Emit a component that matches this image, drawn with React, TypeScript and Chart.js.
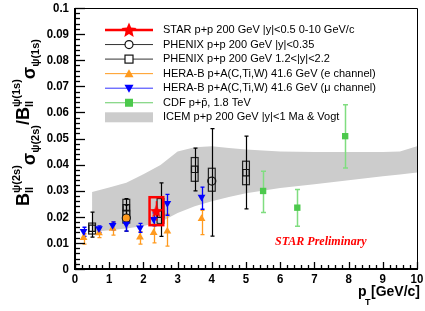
import React, { useEffect, useRef } from "react";
import { Chart, registerables } from "chart.js";

Chart.register(...registerables);

// ---------------- data ----------------
const xTickValues = [0, 1, 2, 3, 4, 5, 6, 7, 8, 9, 10];
const xTickLabels = ["0", "1", "2", "3", "4", "5", "6", "7", "8", "9", "10"];
const yTickValues = [0, 0.01, 0.02, 0.03, 0.04, 0.05, 0.06, 0.07, 0.08, 0.09, 0.1];
const yTickLabels = ["0", "0.01", "0.02", "0.03", "0.04", "0.05", "0.06", "0.07", "0.08", "0.09", "0.1"];

const legendLabels = [
  "STAR p+p 200 GeV |y|<0.5 0-10 GeV/c",
  "PHENIX p+p 200 GeV |y|<0.35",
  "PHENIX p+p 200 GeV 1.2<|y|<2.2",
  "HERA-B p+A(C,Ti,W) 41.6 GeV (e channel)",
  "HERA-B p+A(C,Ti,W) 41.6 GeV (\u03bc channel)",
  "CDF p+p\u0304, 1.8 TeV",
  "ICEM p+p 200 GeV |y|<1 Ma & Vogt",
];

// STAR
const starX = [2.38];
const starY = [0.0222];
const starStatLo = [0.0185];
const starStatHi = [0.026];
const starSysLo = [0.0168];
const starSysHi = [0.0275];

// PHENIX |y|<0.35 (open circles)
const phxCX = [1.5, 4.0];
const phxCY = [0.0195, 0.0337];
const phxCErrLo = [0.0145, 0.0126];
const phxCErrHi = [0.0245, 0.0538];
const phxCSysLo = [0.0176, 0.0298];
const phxCSysHi = [0.0225, 0.0386];

// PHENIX 1.2<|y|<2.2 (open squares)
const phxSX = [0.5, 1.5, 2.5, 3.5, 5.0];
const phxSY = [0.0156, 0.0235, 0.021, 0.0382, 0.0369];
const phxSErrLo = [0.0122, 0.018, 0.0125, 0.0299, 0.023];
const phxSErrHi = [0.0218, 0.027, 0.033, 0.0463, 0.0509];
const phxSSysLo = [0.0134, 0.0195, 0.0175, 0.0336, 0.0323];
const phxSSysHi = [0.0176, 0.0267, 0.027, 0.0427, 0.0413];

// extra orange marker at 1.5
const extraX = [1.5];
const extraY = [0.0195];

// HERA-B e channel
const heraEX = [0.25, 0.7, 1.1, 1.9, 2.3, 2.7, 3.7];
const heraEY = [0.012, 0.0138, 0.0155, 0.0122, 0.0139, 0.0145, 0.0193];
const heraELo = [0.0095, 0.012, 0.013, 0.0095, 0.01, 0.0088, 0.0132];
const heraEHi = [0.0135, 0.0155, 0.018, 0.0143, 0.0172, 0.021, 0.0225];

// HERA-B mu channel
const heraMX = [0.25, 0.7, 1.1, 1.5, 1.9, 2.3, 2.7, 3.7];
const heraMY = [0.0145, 0.0155, 0.0168, 0.0172, 0.0158, 0.0191, 0.0252, 0.0276];
const heraMLo = [0.0125, 0.014, 0.015, 0.0145, 0.014, 0.0165, 0.0206, 0.0229];
const heraMHi = [0.016, 0.0165, 0.018, 0.0195, 0.0175, 0.0215, 0.0286, 0.0314];

// CDF
const cdfX = [5.5, 6.5, 7.9];
const cdfY = [0.0299, 0.0235, 0.0509];
const cdfLo = [0.0216, 0.0164, 0.0387];
const cdfHi = [0.0375, 0.0305, 0.0629];

// ICEM band
const bandX = [0.5, 1.0, 1.5, 2.0, 2.5, 3.0, 3.5, 4.0, 4.5, 5.0, 6.0, 7.0, 8.0, 9.0, 9.5, 10.0];
const bandHigh = [0.0295, 0.0312, 0.033, 0.0363, 0.0398, 0.045, 0.0466, 0.047, 0.0464, 0.0458, 0.045, 0.0448, 0.0448, 0.0448, 0.045, 0.047];
const bandLow = [0.0142, 0.0148, 0.0155, 0.0165, 0.018, 0.0215, 0.024, 0.026, 0.0276, 0.029, 0.031, 0.0325, 0.034, 0.0355, 0.0362, 0.037];

// ---------------- styles ----------------
const SANS = '"Liberation Sans", Arial, Helvetica, sans-serif';
const RED = "#ff0000";
const ORANGE = "#ff9a1e";
const BLUE = "#0000ff";
const GREEN = "#4cc94c";
const GREEN_BAR = "#80dd80";
const BAND = "#cccccc";

function starPath(ctx: CanvasRenderingContext2D, cx: number, cy: number, r: number) {
  const inner = r * 0.45;
  ctx.beginPath();
  for (let i = 0; i < 10; i++) {
    const rad = i % 2 === 0 ? r : inner;
    const a = -Math.PI / 2 + (i * Math.PI) / 5;
    const px = cx + rad * Math.cos(a);
    const py = cy + rad * Math.sin(a);
    if (i === 0) ctx.moveTo(px, py);
    else ctx.lineTo(px, py);
  }
  ctx.closePath();
}

function makeStar(r: number, color: string): HTMLCanvasElement {
  const c = document.createElement("canvas");
  const s = Math.ceil(r * 2 + 2);
  c.width = s;
  c.height = s;
  const g = c.getContext("2d")!;
  g.fillStyle = color;
  starPath(g, s / 2, s / 2 + 0.5, r);
  g.fill();
  return c;
}

const pts = (xs: number[], ys: number[]) => xs.map((x, i) => ({ x, y: ys[i] }));

function condensedText(ctx: CanvasRenderingContext2D, s: string, x: number, y: number, sx: number) {
  ctx.save();
  ctx.translate(x, y);
  ctx.scale(sx, 1);
  ctx.fillText(s, 0, 0);
  ctx.restore();
}

const decor = {
  id: "decor",
  afterDatasetDraw(chart: any, args: any) {
    if (args.index !== 1) return;
    const ctx: CanvasRenderingContext2D = chart.ctx;
    const xs = chart.scales.x;
    const ys = chart.scales.y;
    const bar = (X: number[], lo: number[], hi: number[], color: string, lw: number, cap: number) => {
      ctx.save();
      ctx.strokeStyle = color;
      ctx.lineWidth = lw;
      X.forEach((x, i) => {
        const px = Math.round(xs.getPixelForValue(x)) + 0.5;
        const pl = ys.getPixelForValue(lo[i]);
        const ph = ys.getPixelForValue(hi[i]);
        ctx.beginPath();
        ctx.moveTo(px, pl);
        ctx.lineTo(px, ph);
        ctx.moveTo(px - cap, pl);
        ctx.lineTo(px + cap, pl);
        ctx.moveTo(px - cap, ph);
        ctx.lineTo(px + cap, ph);
        ctx.stroke();
      });
      ctx.restore();
    };
    const box = (X: number[], lo: number[], hi: number[], hw: number, color: string, lw: number) => {
      ctx.save();
      ctx.strokeStyle = color;
      ctx.lineWidth = lw;
      X.forEach((x, i) => {
        const l = xs.getPixelForValue(x - hw);
        const r = xs.getPixelForValue(x + hw);
        const t = ys.getPixelForValue(hi[i]);
        const b = ys.getPixelForValue(lo[i]);
        ctx.strokeRect(l, t, r - l, b - t);
      });
      ctx.restore();
    };
    box(phxSX, phxSSysLo, phxSSysHi, 0.1, "#222", 1.2);
    box(phxCX, phxCSysLo, phxCSysHi, 0.1, "#222", 1.2);
    bar(phxSX, phxSErrLo, phxSErrHi, "#000", 1.2, 2);
    bar(phxCX, phxCErrLo, phxCErrHi, "#000", 1.2, 2);
    bar(heraEX, heraELo, heraEHi, ORANGE, 1.3, 2);
    bar(heraMX, heraMLo, heraMHi, BLUE, 1.3, 2);
    bar(cdfX, cdfLo, cdfHi, GREEN_BAR, 1.5, 2.5);
    bar(starX, starStatLo, starStatHi, RED, 1.5, 0);
  },
  afterDatasetsDraw(chart: any) {
    const ctx: CanvasRenderingContext2D = chart.ctx;
    const xs = chart.scales.x;
    const ys = chart.scales.y;
    ctx.save();
    ctx.strokeStyle = RED;
    ctx.lineWidth = 2.5;
    starX.forEach((x, i) => {
      const l = xs.getPixelForValue(x - 0.2);
      const r = xs.getPixelForValue(x + 0.2);
      const t = ys.getPixelForValue(starSysHi[i]);
      const b = ys.getPixelForValue(starSysLo[i]);
      ctx.strokeRect(l, t, r - l, b - t);
    });
    ctx.restore();
  },
  afterDraw(chart: any) {
    const ctx: CanvasRenderingContext2D = chart.ctx;
    const xs = chart.scales.x;
    const ys = chart.scales.y;
    const a = chart.chartArea;
    ctx.save();
    // frame
    ctx.strokeStyle = "#000";
    ctx.lineWidth = 1;
    ctx.beginPath();
    ctx.moveTo(a.left, a.top + 0.5);
    ctx.lineTo(a.right + 0.5, a.top + 0.5);
    ctx.lineTo(a.right + 0.5, a.bottom);
    ctx.stroke();
    ctx.lineWidth = 2;
    ctx.beginPath();
    ctx.moveTo(a.left, a.top);
    ctx.lineTo(a.left, a.bottom);
    ctx.lineTo(a.right + 1, a.bottom);
    ctx.stroke();
    // y ticks
    ctx.lineWidth = 1.3;
    for (let k = 0; k <= 50; k++) {
      const v = k * 0.002;
      const py = Math.round(ys.getPixelForValue(v)) + 0.5;
      const len = k % 5 === 0 ? 10 : 5;
      ctx.beginPath();
      ctx.moveTo(a.left, py);
      ctx.lineTo(a.left + len, py);
      ctx.stroke();
    }
    // x ticks
    for (let k = 0; k <= 50; k++) {
      const v = k * 0.2;
      const px = Math.round(xs.getPixelForValue(v)) + 0.5;
      const len = k % 5 === 0 ? 7 : 4;
      ctx.beginPath();
      ctx.moveTo(px, a.bottom);
      ctx.lineTo(px, a.bottom - len);
      ctx.stroke();
    }
    // tick labels
    ctx.fillStyle = "#000";
    ctx.font = `bold 13.5px ${SANS}`;
    ctx.textAlign = "right";
    ctx.textBaseline = "middle";
    yTickValues.forEach((v, i) => {
      condensedText(ctx, yTickLabels[i], a.left - 6, ys.getPixelForValue(v), 0.85);
    });
    ctx.textAlign = "center";
    ctx.textBaseline = "alphabetic";
    xTickValues.forEach((v, i) => {
      condensedText(ctx, xTickLabels[i], xs.getPixelForValue(v), 283, 0.85);
    });
    // x title
    ctx.textAlign = "left";
    ctx.font = `bold 14px ${SANS}`;
    ctx.fillText("p", 358, 296);
    ctx.font = `bold 9px ${SANS}`;
    ctx.fillText("T", 365, 305);
    ctx.font = `bold 14px ${SANS}`;
    ctx.fillText("[GeV/c]", 371, 296);

    // y title (rotated)
    ctx.save();
    ctx.rotate(-Math.PI / 2);
    let u = -206;
    const base = 29;
    const main = `bold 18px ${SANS}`;
    const scr = `bold 11px ${SANS}`;
    const put = (s: string, f: string, v: number) => {
      ctx.font = f;
      ctx.fillText(s, u, v);
      return ctx.measureText(s).width;
    };
    const bWithScripts = (sup: string) => {
      u += put("B", main, base);
      const w1 = put(sup, scr, base - 9);
      const w2 = put("ll", scr, base + 4);
      u += Math.max(w1, w2);
    };
    const sigma = (sub: string) => {
      u += put("\u03c3", main, base + 6);
      u += put(sub, scr, base + 10);
    };
    bWithScripts("\u03c8(2s)");
    sigma("\u03c8(2s)");
    u += put("/", main, base);
    bWithScripts("\u03c8(1s)");
    sigma("\u03c8(1s)");
    ctx.restore();

    // STAR Preliminary
    ctx.fillStyle = RED;
    ctx.font = `italic bold 12px "Liberation Serif", "Times New Roman", serif`;
    ctx.fillText("STAR Preliminary", 275, 245);

    // legend
    const lx0 = 105;
    const lx1 = 153;
    const lcx = (lx0 + lx1) / 2;
    const tx = 163;
    const rowY = (i: number) => 30 + i * 14.55;
    const line = (y: number, color: string, lw: number) => {
      ctx.strokeStyle = color;
      ctx.lineWidth = lw;
      ctx.beginPath();
      ctx.moveTo(lx0, y);
      ctx.lineTo(lx1, y);
      ctx.stroke();
    };
    let y = rowY(0);
    line(y, RED, 2.5);
    ctx.fillStyle = RED;
    starPath(ctx, lcx, y + 0.5, 8);
    ctx.fill();
    y = rowY(1);
    line(y, "#333", 1);
    ctx.fillStyle = "#fff";
    ctx.strokeStyle = "#111";
    ctx.lineWidth = 1.2;
    ctx.beginPath();
    ctx.arc(lcx, y, 4, 0, Math.PI * 2);
    ctx.fill();
    ctx.stroke();
    y = rowY(2);
    line(y, "#333", 1);
    ctx.fillStyle = "#fff";
    ctx.strokeStyle = "#111";
    ctx.lineWidth = 1.2;
    ctx.fillRect(lcx - 4, y - 4, 8, 8);
    ctx.strokeRect(lcx - 4, y - 4, 8, 8);
    y = rowY(3);
    line(y, ORANGE, 1);
    ctx.fillStyle = ORANGE;
    ctx.beginPath();
    ctx.moveTo(lcx, y - 4.5);
    ctx.lineTo(lcx + 4.5, y + 3.5);
    ctx.lineTo(lcx - 4.5, y + 3.5);
    ctx.closePath();
    ctx.fill();
    y = rowY(4);
    line(y, "#3333ff", 1);
    ctx.fillStyle = BLUE;
    ctx.beginPath();
    ctx.moveTo(lcx, y + 4.5);
    ctx.lineTo(lcx + 4.5, y - 3.5);
    ctx.lineTo(lcx - 4.5, y - 3.5);
    ctx.closePath();
    ctx.fill();
    y = rowY(5);
    line(y, "#66cc66", 1);
    ctx.fillStyle = GREEN;
    ctx.fillRect(lcx - 4, y - 4, 8, 8);
    y = rowY(6);
    ctx.fillStyle = BAND;
    ctx.fillRect(lx0, y - 5, lx1 - lx0, 10);

    ctx.fillStyle = "#000";
    ctx.font = `11px ${SANS}`;
    ctx.textAlign = "left";
    ctx.textBaseline = "middle";
    legendLabels.forEach((t, i) => ctx.fillText(t, tx, rowY(i)));
    ctx.restore();
  },
};

export default function App() {
  const ref = useRef<HTMLCanvasElement>(null);
  useEffect(() => {
    const canvas = ref.current!;
    const star = makeStar(7, RED);
    const chart = new Chart(canvas, {
      type: "scatter",
      data: {
        datasets: [
          {
            type: "line",
            label: "bandLow",
            order: 100,
            data: pts(bandX, bandLow),
            borderWidth: 0,
            borderColor: "rgba(0,0,0,0)",
            pointRadius: 0,
            fill: false,
          } as any,
          {
            type: "line",
            label: "ICEM",
            order: 99,
            data: pts(bandX, bandHigh),
            borderWidth: 0,
            borderColor: "rgba(0,0,0,0)",
            backgroundColor: BAND,
            pointRadius: 0,
            fill: "-1",
          } as any,
          {
            label: "PHENIX circ",
            order: 6,
            data: pts(phxCX, phxCY),
            pointStyle: "circle",
            pointRadius: 4,
            borderWidth: 1.2,
            borderColor: "#111",
            backgroundColor: "rgba(0,0,0,0)",
          },
          {
            label: "PHENIX sq",
            order: 5,
            data: pts(phxSX, phxSY),
            pointStyle: "rect",
            pointRadius: 4.5,
            borderWidth: 1.2,
            borderColor: "#111",
            backgroundColor: "rgba(0,0,0,0)",
          },
          {
            label: "extra",
            order: 4,
            data: pts(extraX, extraY),
            pointStyle: "circle",
            pointRadius: 3.5,
            borderWidth: 0,
            backgroundColor: ORANGE,
          },
          {
            label: "HERA-B e",
            order: 3,
            data: pts(heraEX, heraEY),
            pointStyle: "triangle",
            pointRadius: 4.5,
            borderWidth: 0,
            backgroundColor: ORANGE,
          },
          {
            label: "HERA-B mu",
            order: 2,
            data: pts(heraMX, heraMY),
            pointStyle: "triangle",
            rotation: 180,
            pointRadius: 4.5,
            borderWidth: 0,
            backgroundColor: BLUE,
          },
          {
            label: "CDF",
            order: 1,
            data: pts(cdfX, cdfY),
            pointStyle: "rect",
            pointRadius: 4.5,
            borderWidth: 0,
            backgroundColor: GREEN,
          },
          {
            label: "STAR",
            order: 0,
            data: pts(starX, starY),
            pointStyle: star,
            pointRadius: 7,
          },
        ],
      },
      options: {
        animation: false,
        responsive: false,
        layout: { padding: { left: 75, right: 5, top: 7, bottom: 42 } },
        scales: {
          x: { type: "linear", min: 0, max: 10, display: false },
          y: { type: "linear", min: 0, max: 0.1, display: false },
        },
        plugins: {
          legend: { display: false },
          tooltip: { enabled: false },
        },
        elements: { line: { tension: 0 } },
      },
      plugins: [decor],
    });
    return () => chart.destroy();
  }, []);
  return (
    <div style={{ position: "fixed", left: 0, top: 0, width: 425, height: 311, background: "#fff" }}>
      <canvas ref={ref} width={425} height={311} style={{ display: "block" }} />
    </div>
  );
}
